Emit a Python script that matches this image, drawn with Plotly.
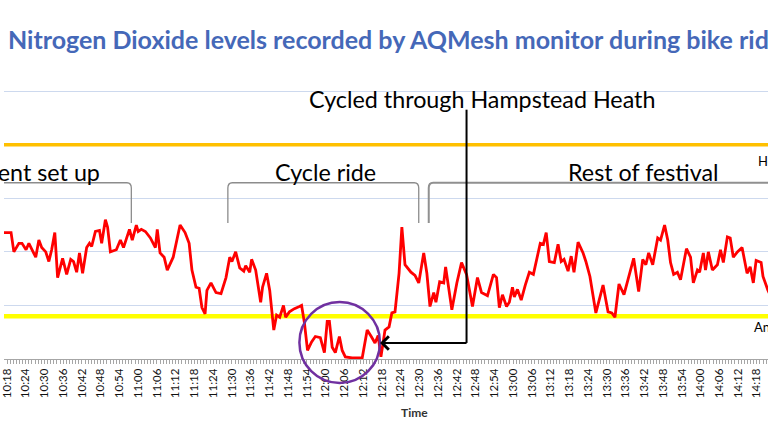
import plotly.graph_objects as go

# ---------------- data ----------------
# time of each reading, minutes after 10:00
minutes = [17.0, 19.3, 20.2, 21.8, 22.8, 24.1, 25.0, 27.2, 28.2, 29.1, 30.4, 31.4, 32.3, 33.3, 34.2,
           35.8, 37.1, 38.4, 39.3, 40.3, 41.2, 42.2, 43.5, 44.4, 45.1, 46.3, 47.6, 48.3, 49.5, 50.2,
           51.1, 53.0, 54.3, 55.3, 57.2, 58.1, 59.4, 60.0, 61.0, 62.3, 63.9, 65.5, 66.1, 67.0, 68.3,
           69.3, 71.2, 73.4, 75.0, 76.3, 77.2, 78.5, 79.5, 80.4, 81.4, 82.0, 83.3, 84.9, 86.5, 88.1,
           89.3, 90.0, 91.2, 92.5, 93.8, 94.4, 95.7, 96.3, 97.6, 99.2, 99.8, 101.1, 102.1, 103.4, 104.3,
           105.3, 106.5, 107.2, 108.4, 110.0, 111.6, 112.3, 113.2, 114.2, 115.5, 116.7, 118.3, 119.6, 120.5, 121.2,
           122.1, 123.1, 124.4, 125.3, 126.3, 128.5, 131.7, 133.3, 134.6, 135.8, 136.8, 137.7, 139.0, 140.3, 141.2,
           142.2, 143.5, 144.4, 145.4, 147.3, 148.6, 149.8, 151.4, 152.4, 153.4, 154.6, 155.3, 156.5, 157.8, 158.4,
           160.4, 162.0, 163.5, 165.1, 167.0, 168.6, 169.9, 171.8, 173.7, 174.7, 175.6, 176.6, 177.9, 178.8, 179.8,
           180.4, 181.4, 182.6, 183.9, 185.2, 186.5, 187.7, 188.7, 189.7, 190.6, 191.6, 193.2, 194.4, 195.4, 196.3,
           197.6, 198.6, 199.5, 200.8, 202.4, 203.3, 204.6, 206.5, 208.8, 210.4, 211.6, 212.6, 213.9, 215.5, 217.0,
           218.6, 220.2, 221.5, 222.5, 223.4, 224.7, 226.3, 227.2, 228.5, 229.5, 230.4, 231.4, 232.6, 233.6, 235.5,
           236.8, 237.7, 239.0, 239.7, 240.9, 241.6, 242.5, 243.8, 245.4, 246.4, 247.3, 248.6, 249.5, 250.5, 251.8,
           253.3, 254.9, 255.9, 256.9, 257.8, 259.4, 260.0, 261.6, 263.0]
no2 = [118, 118, 100, 108, 108, 102, 108, 95, 111, 104, 100, 91, 102, 118, 76,
       94, 79, 93, 91, 81, 99, 80, 104, 108, 105, 119, 120, 108, 130, 123,
       100, 102, 111, 104, 121, 111, 125, 119, 121, 119, 113, 104, 121, 99, 95,
       83, 95, 125, 118, 108, 83, 67, 66, 48, 42, 64, 71, 62, 61, 76,
       95, 91, 100, 85, 82, 87, 81, 93, 83, 53, 67, 80, 64, 27, 41,
       39, 50, 39, 44, 47, 49, 50, 34, 8, 16, 21, 20, 6, 35, 35,
       11, 6, 21, 8, 2, 1, 1, 27, 21, 15, 22, 2, 27, 30, 43,
       44, 80, 123, 88, 81, 78, 71, 99, 80, 49, 62, 53, 72, 71, 86,
       46, 71, 90, 79, 49, 76, 62, 59, 79, 76, 48, 60, 49, 53, 67,
       58, 65, 55, 69, 81, 79, 95, 108, 107, 118, 91, 90, 107, 91, 93,
       82, 96, 81, 109, 99, 91, 77, 43, 69, 44, 43, 39, 70, 60, 77,
       94, 63, 93, 88, 99, 88, 113, 111, 125, 111, 90, 79, 81, 74, 103,
       95, 71, 83, 81, 99, 83, 100, 83, 88, 102, 90, 114, 113, 95, 100,
       104, 80, 86, 71, 92, 90, 77, 64, 55]

hourly_limit = 200
annual_limit = 40

tick_minutes = list(range(18, 259, 6))          # labelled ticks every 6 minutes
tick_labels = [f"{10 + m // 60}:{m % 60:02d}" for m in tick_minutes]

X_RANGE = [17.04, 261.6]
Y_RANGE = [0, 252]

def px(t):  # data minute -> paper x
    return (t - X_RANGE[0]) / (X_RANGE[1] - X_RANGE[0])

def py(v):  # data value -> paper y
    return (v - Y_RANGE[0]) / (Y_RANGE[1] - Y_RANGE[0])

FONT = "Lato"

fig = go.Figure()

fig.add_trace(go.Scatter(x=[X_RANGE[0] - 5, X_RANGE[1] + 5], y=[hourly_limit] * 2, mode="lines",
                         line=dict(color="#FFC000", width=3.5), hoverinfo="skip"))
fig.add_trace(go.Scatter(x=[X_RANGE[0] - 5, X_RANGE[1] + 5], y=[annual_limit] * 2, mode="lines",
                         line=dict(color="#FFFF00", width=4.5), hoverinfo="skip"))
fig.add_trace(go.Scatter(x=minutes, y=no2, mode="lines",
                         line=dict(color="#FF0000", width=2.8), hoverinfo="skip"))

# brackets (gray braces)
br_top, br_bot = 164.5, 127
brace_color = "#8c8c8c"
shapes = [
    dict(type="path", xref="x", yref="y", layer="above",
         path=f"M {X_RANGE[0]-2},{br_top} L 56.4,{br_top} Q 57.8,{br_top} 57.8,{br_top-5} L 57.8,{br_bot}",
         line=dict(color=brace_color, width=1.3)),
    dict(type="path", xref="x", yref="y", layer="above",
         path=(f"M 88.7,{br_bot} L 88.7,{br_top-5} Q 88.7,{br_top} 90.1,{br_top} "
               f"L 148.4,{br_top} Q 149.8,{br_top} 149.8,{br_top-5} L 149.8,{br_bot}"),
         line=dict(color=brace_color, width=1.3)),
    dict(type="path", xref="x", yref="y", layer="above",
         path=f"M 153.0,{br_bot} L 153.0,{br_top-5} Q 153.0,{br_top} 154.4,{br_top} L {X_RANGE[1]+2},{br_top}",
         line=dict(color="#909090", width=2)),
    # vertical part of the Hampstead Heath pointer
    dict(type="line", xref="x", yref="y", layer="above",
         x0=165.1, x1=165.1, y0=232.7, y1=15, line=dict(color="#000000", width=2)),
    # purple circle around the low readings
    dict(type="circle", xref="paper", yref="paper", layer="above",
         x0=px(111.6), x1=px(137.4), y0=py(-22.4), y1=py(53.3),
         line=dict(color="#7030A0", width=2.5)),
]

ann_font = dict(family=FONT, size=23.3, color="#000000")
annotations = [
    dict(x=165.1, y=15, ax=137.4, ay=15, xref="x", yref="y", axref="x", ayref="y",
         showarrow=True, arrowhead=0, arrowwidth=2, arrowcolor="#000000", text=""),
    dict(x=137.4, y=15, ax=141.0, ay=15, xref="x", yref="y", axref="x", ayref="y",
         showarrow=True, arrowhead=4, arrowsize=1.3, arrowwidth=2, arrowcolor="#000000", text=""),
    dict(x=170.1, y=242.5, xref="x", yref="y", text="Cycled through Hampstead Heath",
         showarrow=False, font=ann_font, xanchor="center", yanchor="middle"),
    dict(x=48.3, y=175, xref="x", yref="y", text="Equipment set up",
         showarrow=False, font=ann_font, xanchor="right", yanchor="middle"),
    dict(x=119.9, y=175, xref="x", yref="y", text="Cycle ride",
         showarrow=False, font=ann_font, xanchor="center", yanchor="middle"),
    dict(x=221.8, y=175, xref="x", yref="y", text="Rest of festival",
         showarrow=False, font=ann_font, xanchor="center", yanchor="middle"),
    dict(x=257.8, y=185, xref="x", yref="y", text="Hourly limit",
         showarrow=False, font=dict(family=FONT, size=13, color="#000000"),
         xanchor="left", yanchor="middle"),
    dict(x=256.6, y=30, xref="x", yref="y", text="Annual limit",
         showarrow=False, font=dict(family=FONT, size=13, color="#000000"),
         xanchor="left", yanchor="middle"),
    dict(x=148.6, y=py(-50), xref="x", yref="paper", text="<b>Time</b>",
         showarrow=False, font=dict(family=FONT, size=12, color="#333333"),
         xanchor="center", yanchor="middle"),
]

fig.update_layout(
    width=768, height=432,
    margin=dict(l=0, r=0, t=89, b=73, pad=0),
    paper_bgcolor="white", plot_bgcolor="white",
    showlegend=False,
    title=dict(text="<b>Nitrogen Dioxide levels recorded by AQMesh monitor during bike ride</b>",
               x=8 / 768, xanchor="left", xref="container",
               y=1 - 40 / 432, yanchor="middle", yref="container",
               font=dict(family=FONT, size=25, color="#4568B8")),
    shapes=shapes,
    annotations=annotations,
)

fig.update_xaxes(
    range=X_RANGE, showgrid=False, zeroline=False,
    showline=True, linecolor="#a6a6a6", linewidth=1,
    tickmode="array", tickvals=tick_minutes, ticktext=tick_labels,
    tickangle=-90, ticks="outside", ticklen=4, tickcolor="#a6a6a6",
    ticklabeloverflow="allow",
    tickfont=dict(family=FONT, size=11.5, color="#111111"),
    minor=dict(tickmode="linear", tick0=0, dtick=1, ticks="outside", ticklen=4,
               tickcolor="#a6a6a6", showgrid=False),
)
fig.update_yaxes(
    range=Y_RANGE, showgrid=True, gridcolor="#cdd9ee", gridwidth=1,
    tickmode="linear", tick0=0, dtick=50,
    zeroline=False, showline=False, showticklabels=False, ticks="",
)

fig.write_html("out.html")
